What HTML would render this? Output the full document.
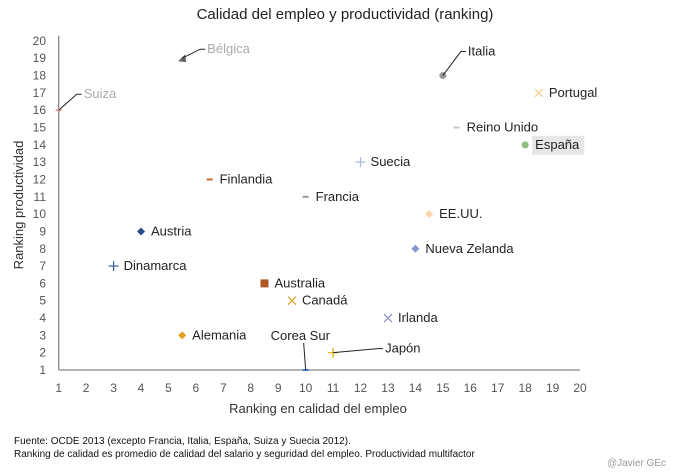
<!DOCTYPE html>
<html><head><meta charset="utf-8"><style>
body{margin:0;background:#fff;}
svg{display:block;font-family:"Liberation Sans",sans-serif;}
</style></head><body>
<svg id="chart" width="680" height="473">
<text x="345" y="19" text-anchor="middle" font-size="15" fill="#222">Calidad del empleo y productividad (ranking)</text>
<g id="axes"></g>
<g id="marks"></g>
<text x="318" y="413" text-anchor="middle" font-size="13" fill="#333">Ranking en calidad del empleo</text>
<text transform="translate(23,205) rotate(-90)" text-anchor="middle" font-size="13" fill="#333">Ranking productividad</text>
<text x="14" y="444" font-size="10" fill="#111">Fuente: OCDE 2013 (excepto Francia, Italia, España, Suiza y Suecia 2012).</text>
<text x="14" y="457" font-size="10" fill="#111">Ranking de calidad es promedio de calidad del salario y seguridad del empleo. Productividad multifactor</text>
<text x="666" y="466" text-anchor="end" font-size="10" fill="#999">@Javier GEc</text>
</svg>
<script>
const countries=["Suiza","Bélgica","Italia","Portugal","Reino Unido","España","Suecia","Finlandia","Francia","EE.UU.","Austria","Nueva Zelanda","Dinamarca","Australia","Canadá","Irlanda","Alemania","Corea Sur","Japón"];
const quality=[1,5.5,15,18.5,15.5,18,12,6.5,10,14.5,4,14,3,8.5,9.5,13,5.5,10,11];
const productivity=[16,19,18,17,15,14,13,12,11,10,9,8,7,6,5,4,3,1,2];
const xTicks=[1,2,3,4,5,6,7,8,9,10,11,12,13,14,15,16,17,18,19,20];
const yTicks=[1,2,3,4,5,6,7,8,9,10,11,12,13,14,15,16,17,18,19,20];
const shapes=["dash","triangle","circle","x","dash","circle","plus","dash","dash","diamond","diamond","diamond","plus","square","x","x","diamond","dash","plus"];
const colors=["#e8a0a0","#888","#999","#f5c88a","#c8c8c8","#8fbc7e","#aab8e0","#d0662a","#999","#fcd8a8","#2e4a8a","#8896c8","#3a5aa0","#b05a28","#e0a020","#8890c0","#e0a020","#4a7ac8","#e0b000"];
const labelColors=["#aaa","#aaa","#222","#222","#222","#222","#222","#222","#222","#222","#222","#222","#222","#222","#222","#222","#222","#222","#222"];
const X=v=>58.7+(v-1)*27.44;
const Y=v=>370-(v-1)*17.32;
const NS="http://www.w3.org/2000/svg";
function mk(tag,attrs,parent,text){const e=document.createElementNS(NS,tag);for(const k in attrs)e.setAttribute(k,attrs[k]);if(text!==undefined)e.textContent=text;parent.appendChild(e);return e;}
const ax=document.getElementById('axes'),mg=document.getElementById('marks');
let l=mk('line',{x1:X(1),y1:Y(1),x2:X(20),y2:Y(1),stroke:'#888','stroke-width':1.3},ax);


l=mk('line',{x1:X(1),y1:Y(1),x2:X(1),y2:Y(20.3),stroke:'#888','stroke-width':1.3},ax);


xTicks.forEach(v=>{const t=mk('text',{x:X(v),y:392,'text-anchor':'middle','font-size':12,fill:'#555'},ax,v);

});
yTicks.forEach(v=>{const t=mk('text',{x:46,y:Y(v)+4,'text-anchor':'end','font-size':12,fill:'#555'},ax,v);

});
// leader offsets: [label-start dx, label baseline dy] relative to marker
const leaders={"Suiza":[25,-12],"Bélgica":[25,-5],"Italia":[25,-20],"Corea Sur":[-35,-30],"Japón":[52,0]};
countries.forEach((c,i)=>{
 const x=X(quality[i]),y=Y(productivity[i]),col=colors[i];
 const g=mk('g',{},mg);
 
 
 const s=shapes[i];
 if(s==='dash')mk('line',{x1:x-3,y1:y,x2:x+3,y2:y,stroke:col,'stroke-width':2},g);
 else if(s==='circle')mk('circle',{cx:x,cy:y,r:3.5,fill:col},g);
 else if(s==='square')mk('rect',{x:x-4,y:y-4,width:8,height:8,fill:col},g);
 else if(s==='diamond')mk('path',{d:`M${x} ${y-4}L${x+4} ${y}L${x} ${y+4}L${x-4} ${y}Z`,fill:col},g);
 else if(s==='plus')mk('path',{d:`M${x-5} ${y}H${x+5}M${x} ${y-5}V${y+5}`,stroke:col,'stroke-width':1.2},g);
 else if(s==='x')mk('path',{d:`M${x-4} ${y-4}L${x+4} ${y+4}M${x+4} ${y-4}L${x-4} ${y+4}`,stroke:col,'stroke-width':1.2},g);
 else if(s==='triangle')mk('path',{d:`M${x-4} ${y+3}L${x+3} ${y-4}L${x+4} ${y+4}Z`,fill:'#666'},g);
 let lx=x+10,ly=y+4;
 if(leaders[c]){const [dx,dy]=leaders[c];
  lx=x+dx;ly=y+dy;
  if(c==='Corea Sur'){mk('path',{d:`M${x} ${y}L${x-2} ${y-27}`,stroke:'#222',fill:'none'},g);}
  else{mk('path',{d:`M${x} ${y}L${lx-7} ${ly-4}H${lx-2}`,stroke:'#222',fill:'none'},g);}
 }
 if(c==='España')mk('rect',{x:lx-3,y:ly-13,width:52,height:19,fill:'#e6e6e6'},g);
 mk('text',{x:lx,y:ly,'font-size':13,fill:labelColors[i]},g,c);
});
</script>
</body></html>
